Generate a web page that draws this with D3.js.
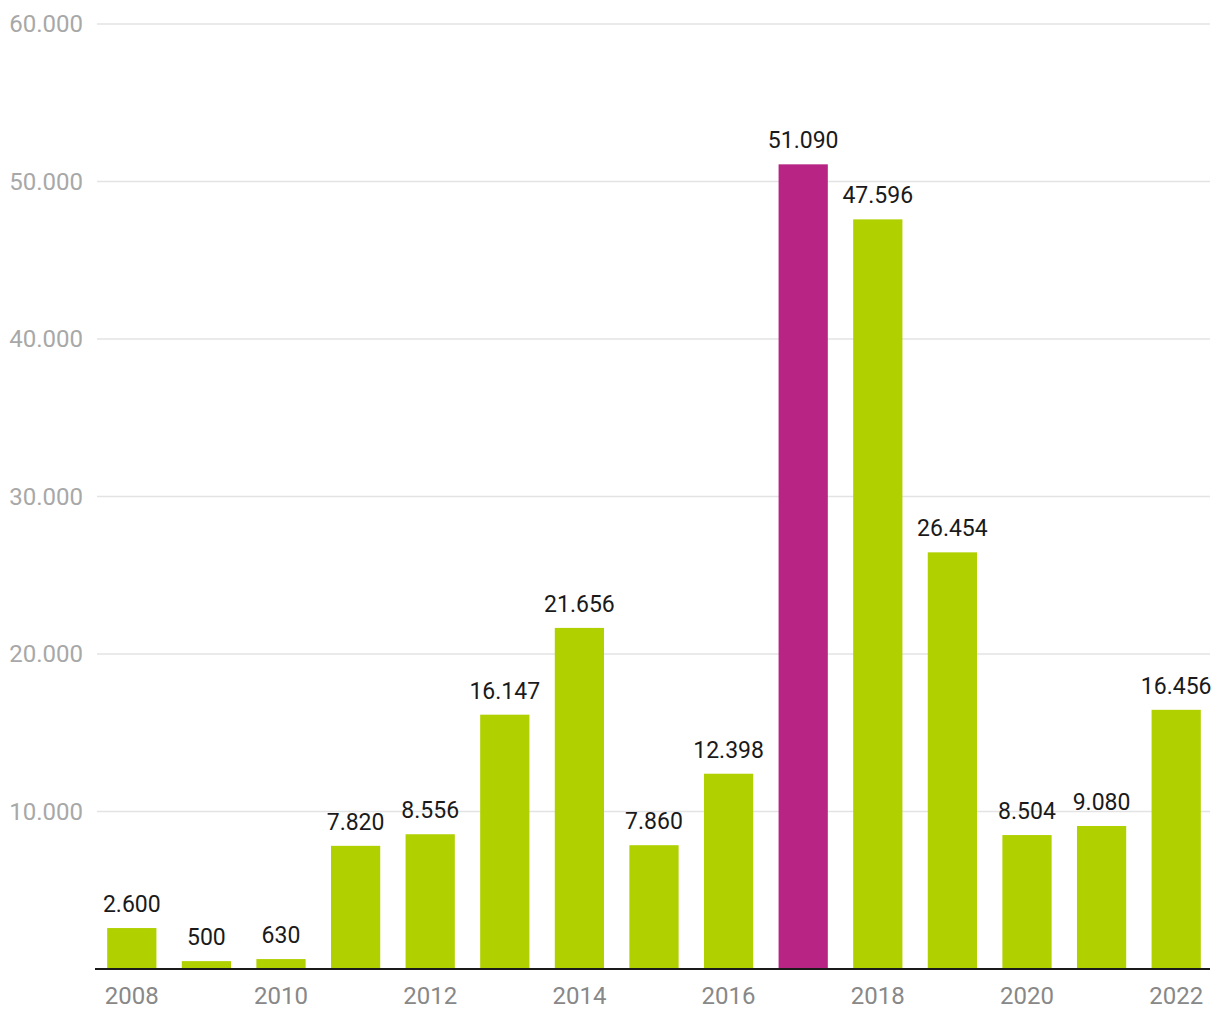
<!DOCTYPE html>
<html><head><meta charset="utf-8">
<script src="https://cdn.jsdelivr.net/npm/d3@7"></script>
<style>body{margin:0;background:#fff;} text{font-family:Roboto,sans-serif;}</style>
</head><body>
<svg id="c" width="1220" height="1020"></svg>
<script>
const years = [2008,2009,2010,2011,2012,2013,2014,2015,2016,2017,2018,2019,2020,2021,2022];
const values = [2600,500,630,7820,8556,16147,21656,7860,12398,51090,47596,26454,8504,9080,16456];
const highlightYear = 2017;
const yTicks = [10000,20000,30000,40000,50000,60000];
const xTickYears = [2008,2010,2012,2014,2016,2018,2020,2022];

(function(){
const svg = d3.select("#c");
const pLeft = 95, pRight = 1210, pTop = 24, pBottom = 969;
const x = d3.scaleBand().domain(years).range([96, 1212]).paddingInner(0.34).paddingOuter(0.15);
const y = d3.scaleLinear().domain([0, 60000]).range([pBottom, pTop]);
const fmt = v => d3.format(",")(v).replace(/,/g, ".");

svg.append("g").selectAll("line").data(yTicks).join("line")
  .attr("x1", 97).attr("x2", pRight)
  .attr("y1", d => y(d)).attr("y2", d => y(d))
  .attr("stroke", "#e3e3e3").attr("stroke-width", 1.5);

svg.append("g").selectAll("text").data(yTicks).join("text")
  .attr("x", 83).attr("y", d => y(d)).attr("dy", "0.35em")
  .attr("text-anchor", "end").attr("fill", "#a8a8a8").attr("font-size", 24)
  .text(fmt);

svg.append("g").selectAll("rect").data(years).join("rect")
  .attr("x", d => x(d)).attr("width", x.bandwidth())
  .attr("y", (d, i) => y(values[i])).attr("height", (d, i) => pBottom - y(values[i]))
  .attr("fill", d => d === highlightYear ? "#b72483" : "#b0d000");

svg.append("g").selectAll("text").data(years).join("text")
  .attr("x", d => x(d) + x.bandwidth() / 2)
  .attr("y", (d, i) => y(values[i]) - 16)
  .attr("text-anchor", "middle").attr("fill", "#1a1a1a").attr("font-size", 23)
  .text((d, i) => fmt(values[i]));

svg.append("line").attr("x1", pLeft).attr("x2", pRight).attr("y1", pBottom).attr("y2", pBottom)
  .attr("stroke", "#1a1a1a").attr("stroke-width", 2);

svg.append("g").selectAll("text").data(xTickYears).join("text")
  .attr("x", d => x(d) + x.bandwidth() / 2).attr("y", 1004)
  .attr("text-anchor", "middle").attr("fill", "#888").attr("font-size", 24)
  .text(d => d);
})();
</script>
</body></html>
